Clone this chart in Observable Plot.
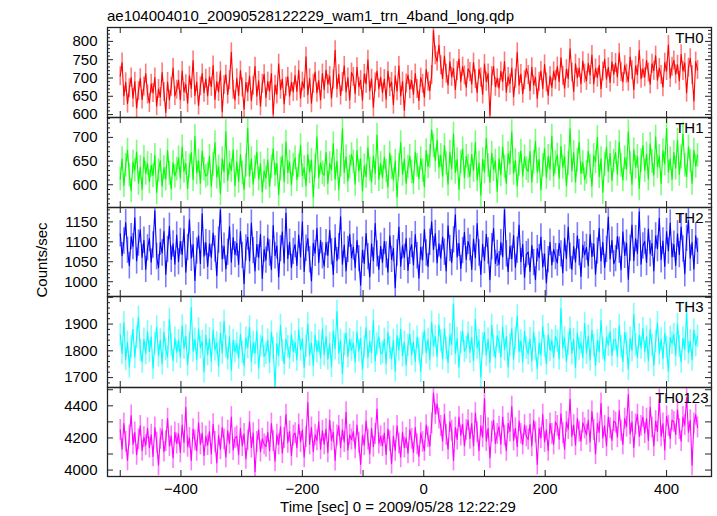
<!DOCTYPE html>
<html><head><meta charset="utf-8">
<script src="https://cdn.jsdelivr.net/npm/d3@7"></script>
<script src="https://cdn.jsdelivr.net/npm/@observablehq/plot@0.6"></script>
<style>
body{margin:0;background:#fff;font-family:"Liberation Sans",Arial,Helvetica,sans-serif;}
#chart{position:relative;width:717px;height:516px;overflow:hidden;background:#fff;}
.t{position:absolute;white-space:nowrap;color:#000;font-size:15px;line-height:17px;}
.p{position:absolute;left:0;}
</style></head><body>
<div id="chart">
<div class="t" style="left:107px;top:7px;">ae104004010_20090528122229_wam1_trn_4band_long.qdp</div>
<div class="t" style="left:398px;top:498px;transform:translateX(-50%);">Time [sec] 0 = 2009/05/28 12:22:29</div>
<div class="t" style="left:41px;top:260px;transform:translate(-50%,-50%) rotate(-90deg);">Counts/sec</div>
</div>
<script>
// time bins: start and width (sec)
const tStart = -500;
const tStep = 3;

const seriesNames = ["TH0", "TH1", "TH2", "TH3", "TH0123"];

const th0 = [
705,742,651,688,630,672,701,645,690,618,664,699,641,677,712,655,
632,684,659,701,623,670,648,715,662,606,689,640,676,727,651,668,
694,640,719,662,683,631,706,671,748,652,689,625,677,712,660,698,
651,703,676,734,641,690,662,718,608,681,709,655,694,770,668,640,
699,652,720,674,615,688,661,705,638,679,731,650,692,623,684,710,
646,690,664,712,601,681,655,739,668,697,629,676,703,650,688,662,
707,663,721,645,690,672,758,654,699,631,684,716,660,693,640,712,
668,722,683,705,645,696,776,671,710,652,689,733,662,701,640,715,
703,657,729,676,694,639,711,684,750,665,698,620,688,719,671,702,
660,697,642,718,675,689,627,706,664,733,651,690,612,685,708,669,
694,655,712,670,638,701,684,647,723,690,665,708,830,762,745,790,
735,698,760,712,681,744,703,726,668,719,752,690,731,707,674,725,
716,683,742,697,660,724,701,655,738,690,712,598,705,731,676,699,
672,718,690,745,661,703,684,727,649,698,770,680,711,657,694,726,
708,665,729,680,702,644,690,719,671,737,688,652,705,674,718,695,
731,690,755,706,672,724,698,780,715,663,739,701,727,684,746,712,
692,740,708,763,684,726,701,735,671,718,752,697,729,688,744,710,
741,703,768,716,689,735,712,690,757,721,668,733,709,776,698,725,
702,748,715,683,739,720,761,694,727,708,675,742,719,790,700,731,
748,710,736,692,765,719,741,660,728,754,708,637,745,722
];

const th1 = [
612,655,598,641,673,620,587,648,631,669,603,637,590,658,624,645,
606,641,619,662,583,630,651,597,636,612,672,624,591,647,618,633,
657,614,680,628,645,592,639,668,611,702,625,650,603,671,633,618,
622,660,597,643,689,616,638,581,655,627,712,609,646,630,674,598,
648,607,663,625,590,641,719,618,655,601,637,669,612,644,585,629,
614,652,596,638,676,621,645,579,633,661,607,690,626,648,600,642,
657,611,640,683,619,636,598,664,627,652,574,639,701,615,646,625,
620,668,603,645,632,687,612,650,590,641,718,626,659,608,637,664,
648,601,672,629,655,587,640,617,678,633,606,660,624,705,611,645,
615,658,629,595,667,636,610,650,574,641,689,622,654,603,638,660,
627,604,669,641,613,655,630,596,672,638,660,716,682,651,694,637,
662,618,683,645,601,669,634,707,626,653,590,648,676,615,660,639,
617,664,630,689,610,646,578,653,627,698,641,605,667,632,650,586,
655,621,680,638,603,666,645,712,624,651,597,643,671,618,659,634,
628,670,606,648,692,627,653,589,641,676,615,660,633,703,619,647,
663,614,681,637,659,598,645,718,629,668,606,652,690,624,647,611,
626,671,639,597,662,648,700,617,655,584,643,679,628,666,609,650,
668,622,690,641,610,657,633,712,646,601,674,637,660,592,651,683,
630,665,612,686,649,620,701,638,660,602,672,644,719,627,655,611,
668,635,694,622,659,707,641,617,680,650,603,673,639,662
];

const th2 = [
1120,1065,1102,1148,1079,1040,1113,1088,1160,1052,1097,1130,1061,1104,1031,1085,
1108,1049,1092,1178,1063,1035,1099,1072,1126,1018,1081,1139,1056,1095,1044,1117,
1050,1101,1068,1132,1024,1086,1155,1059,1093,1003,1077,1115,1046,1170,1064,1098,
1038,1095,1061,1122,1082,1015,1104,1180,1057,1089,1032,1074,1138,1049,1111,1068,
1097,1043,1126,1066,995,1085,1112,1052,1147,1078,1027,1093,1060,1119,1008,1081,
1054,1109,1072,1030,1141,1065,1090,1012,1083,1125,1047,1172,1058,1099,1036,1076,
1093,1041,1117,1062,1150,1026,1084,1108,1055,1002,1096,1071,1134,1048,1103,1065,
1039,1098,1066,1129,1075,1018,1110,1053,1088,1163,1044,1092,1027,1081,1119,1060,
1087,1035,1104,1058,991,1079,1046,1121,1063,1012,1095,1052,1146,1070,1031,1089,
1048,1101,1067,1024,1115,1056,1083,985,1072,1137,1039,1090,1061,1108,1028,1076,
1093,1042,1118,1065,1009,1087,1054,1131,1072,1038,1099,1150,1080,1121,1047,1095,
1059,1112,1074,1027,1140,1083,1048,1105,1168,1062,1096,1033,1078,1124,1055,1101,
1085,1031,1107,1060,1146,1072,1018,1094,1053,1119,1077,1005,1088,1133,1046,1071,
1043,1098,1062,1180,1070,1025,1089,1057,1116,1036,1079,1142,1050,1094,1011,1068,
1074,1026,1091,1048,1005,1083,1060,1112,1037,1070,997,1055,1099,1042,1081,1063,
1047,1096,1070,1022,1109,1058,1137,1064,1031,1088,1049,1115,1073,1013,1092,1067,
1086,1040,1118,1063,1095,1019,1077,1134,1052,1099,1036,1081,1162,1057,1104,1045,
1058,1113,1079,1030,1125,1066,1097,1006,1084,1142,1053,1108,1071,1175,1044,1090,
1101,1048,1132,1070,1096,1027,1115,1083,1159,1055,1102,1038,1126,1077,1147,1062,
1094,1041,1120,1068,1137,1082,1020,1109,1153,1059,1098,1032,1115,1076
];

const th3 = [
1860,1790,1905,1768,1832,1740,1815,1880,1776,1850,1925,1802,1758,1843,1790,1871,
1797,1852,1735,1826,1889,1781,1840,1752,1868,1805,1777,1918,1822,1763,1847,1795,
1838,1776,1893,1810,1855,1748,1827,1962,1799,1843,1767,1881,1812,1835,1722,1858,
1786,1845,1761,1878,1804,1829,1743,1866,1792,1910,1815,1770,1852,1728,1839,1797,
1827,1773,1862,1795,1745,1848,1812,1889,1760,1831,1790,1874,1735,1818,1853,1779,
1791,1840,1757,1870,1809,1669,1826,1782,1895,1801,1752,1844,1815,1773,1861,1798,
1832,1766,1879,1803,1845,1738,1817,1900,1784,1829,1745,1858,1797,1836,1772,1881,
1785,1853,1769,1827,1742,1874,1808,1947,1790,1838,1715,1822,1866,1779,1841,1803,
1829,1758,1870,1800,1847,1731,1814,1886,1775,1834,1793,1912,1761,1826,1852,1788,
1794,1843,1752,1868,1811,1770,1839,1725,1857,1803,1880,1781,1833,1746,1820,1862,
1786,1834,1760,1851,1805,1723,1827,1875,1793,1842,1768,1907,1818,1853,1779,1896,
1838,1771,1882,1809,1757,1860,1824,1975,1790,1846,1739,1831,1873,1798,1812,1867,
1795,1850,1763,1918,1811,1838,1702,1826,1869,1784,1843,1757,1895,1817,1774,1856,
1832,1776,1889,1804,1853,1740,1821,1882,1769,1847,1930,1796,1837,1758,1873,1810,
1789,1845,1762,1870,1806,1733,1829,1784,1891,1817,1751,1860,1802,1838,1775,1853,
1836,1770,1958,1812,1848,1761,1825,1884,1790,1842,1737,1867,1807,1829,1774,1902,
1791,1855,1766,1877,1818,1745,1838,1796,1913,1809,1763,1850,1821,1872,1783,1840,
1842,1779,1894,1815,1760,1868,1826,1731,1847,1801,1936,1823,1775,1859,1811,1883,
1797,1852,1764,1880,1820,1746,1835,1905,1789,1844,1771,1866,1813,1724,1850,1828,
1861,1783,1898,1816,1758,1847,1805,1942,1792,1837,1766,1878,1820,1854
];

const th0123 = [
4250,4130,4290,4175,4060,4215,4340,4160,4235,4095,4190,4275,4120,4205,4155,4260,
4140,4220,4085,4265,4170,4030,4195,4250,4115,4180,4320,4150,4210,4075,4235,4165,
4225,4110,4280,4170,4390,4145,4200,4060,4255,4185,4120,4295,4160,4230,4090,4210,
4155,4240,4100,4285,4175,4045,4215,4130,4265,4190,4080,4245,4165,4330,4125,4200,
4210,4095,4260,4150,4225,4070,4185,4300,4140,4230,3990,4175,4250,4115,4195,4160,
4145,4235,4120,4290,4180,4055,4220,4160,4270,4105,4200,4345,4170,4240,4090,4215,
4230,4140,4285,4175,4250,4080,4205,4420,4160,4265,4115,4220,4185,4300,4130,4245,
4160,4255,4110,4310,4185,4235,4060,4215,4275,4140,4250,4175,4360,4125,4220,4190,
4240,4135,4280,4170,4035,4215,4155,4305,4190,4100,4260,4145,4225,4380,4165,4210,
4150,4230,4095,4255,4180,4040,4210,4120,4275,4165,4080,4235,4140,4200,4105,4250,
4195,4110,4265,4160,4085,4230,4175,4120,4280,4205,4150,4290,4480,4350,4410,4320,
4275,4180,4345,4220,4130,4300,4245,4060,4265,4190,4330,4215,4285,4150,4250,4310,
4195,4290,4150,4355,4235,4120,4275,4205,4445,4180,4260,4075,4240,4310,4165,4225,
4270,4160,4330,4215,4120,4290,4240,4395,4185,4260,4145,4305,4225,4160,4280,4210,
4190,4285,4150,4310,4235,4035,4260,4200,4345,4175,4250,4120,4290,4225,4160,4300,
4275,4190,4350,4230,4130,4300,4255,4440,4210,4280,4155,4320,4240,4180,4295,4260,
4220,4310,4175,4365,4250,4100,4290,4235,4415,4200,4275,4150,4330,4260,4185,4305,
4295,4205,4370,4245,4160,4320,4270,4470,4225,4300,4140,4285,4345,4210,4275,4330,
4230,4320,4185,4390,4265,4150,4305,4240,4440,4210,4290,4125,4335,4275,4195,4310,
4300,4220,4375,4255,4180,4330,4280,4450,4235,4310,4030,4290,4345,4265
];

// 1-sigma errors (counts/sec) read from the error-bar widths
const seriesErrors = [26, 25, 33, 42, 65];

// y tick labels per panel
const yLabels = [
  [600, 650, 700, 750, 800],
  [600, 650, 700],
  [1000, 1050, 1100, 1150],
  [1700, 1800, 1900],
  [4000, 4200, 4400]
];
const xLabels = [-400, -200, 0, 200, 400];

const series = [th0, th1, th2, th3, th0123];
const colors = ["#ff0000", "#00ff00", "#0000ff", "#00ffff", "#ff00ff"];
const lightColors = ["#ff7a7a", "#7aff7a", "#7a7aff", "#7affff", "#ff7aff"];
const yDomains = [[592, 838], [552, 742], [963, 1186], [1663, 2003], [3960, 4514]];
const majorStep = [50, 50, 50, 100, 100];
const minorStep = [10, 10, 10, 20, 0];
const panelTops = [27, 117, 207, 296, 387, 476];
const labelDx = [-8, -8, -8, -8, -3];

const W = 717, ML = 107, MR = 6;
const innerW = W - ML - MR;
const xDomain = [-521, 474];
const xMajor = d3.range(-500, 401, 100);
const font = '"Liberation Sans", Arial, Helvetica, sans-serif';
const frameColor = "#222";

const chart = document.getElementById("chart");

series.forEach((vals, i) => {
  const data = vals.map((v, k) => ({t: tStart + k * tStep, v}));
  const err = seriesErrors[i];
  const top = panelTops[i];
  const h = panelTops[i + 1] - top;
  const last = i === series.length - 1;
  const mb = last ? 30 : 0;
  const [y0, y1] = yDomains[i];
  const major = d3.range(Math.ceil(y0 / majorStep[i]) * majorStep[i], y1 + 0.001, majorStep[i]);
  const minor = minorStep[i] ? d3.range(Math.ceil(y0 / minorStep[i]) * minorStep[i], y1 + 0.001, minorStep[i]).filter(d => !major.includes(d)) : [];
  const marks = [
    Plot.ruleX(data, {x: "t", y1: d => d.v - err, y2: d => d.v + err, stroke: lightColors[i], strokeWidth: 1.6, clip: true}),
    Plot.line(data, {x: "t", y: "v", stroke: colors[i], strokeWidth: 1.1, clip: true}),
    Plot.frame({stroke: frameColor, strokeWidth: 1.3}),
    Plot.tickX(xMajor, {x: d => d, insetTop: h - 6, stroke: frameColor}),
    Plot.tickX(xMajor, {x: d => d, insetBottom: h - 6, stroke: frameColor}),
    Plot.tickY(major, {y: d => d, insetRight: innerW - 6, stroke: frameColor}),
    Plot.tickY(major, {y: d => d, insetLeft: innerW - 6, stroke: frameColor}),
    Plot.tickY(minor, {y: d => d, insetRight: innerW - 3, stroke: frameColor}),
    Plot.tickY(minor, {y: d => d, insetLeft: innerW - 3, stroke: frameColor}),
    Plot.axisY({ticks: yLabels[i], tickSize: 0, tickPadding: 10, tickFormat: d => String(d), label: null, fontSize: 15, fill: "#000"}),
    Plot.text([seriesNames[i]], {text: d => d, frameAnchor: "top-right", textAnchor: "end", lineAnchor: "top", dx: labelDx[i], dy: 5, fontSize: 15, fill: "#000"})
  ];
  if (last) {
    marks.push(Plot.axisX({ticks: xLabels, tickSize: 0, tickPadding: 7, label: null, fontSize: 15, fill: "#000"}));
  }
  const p = Plot.plot({
    width: W,
    height: h + mb,
    marginLeft: ML,
    marginRight: MR,
    marginTop: 0,
    marginBottom: mb,
    x: {domain: xDomain, axis: null, label: null},
    y: {domain: yDomains[i], axis: null, label: null},
    style: {background: "transparent", overflow: "visible", fontFamily: font, fontSize: "15px", color: "#000"},
    marks
  });
  p.classList.add("p");
  p.style.top = top + "px";
  chart.appendChild(p);
});
</script>
</body></html>
